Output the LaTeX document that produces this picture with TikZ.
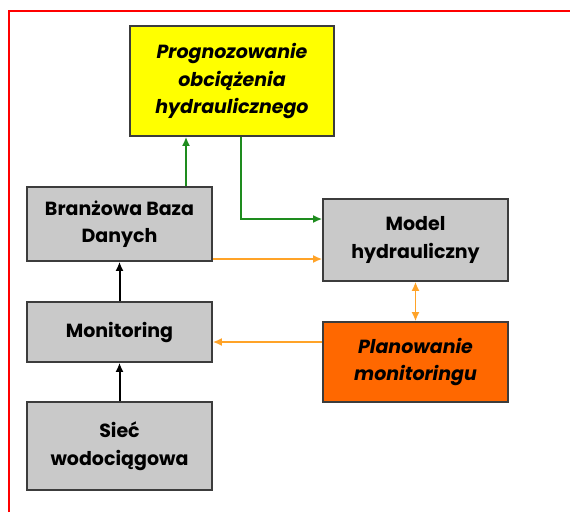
\documentclass[tikz,border=0pt]{standalone}
\usepackage{fontspec}
\setmainfont{Poppins}
\usetikzlibrary{arrows.meta}
\definecolor{boxgray}{RGB}{201,201,201}
\definecolor{boxline}{RGB}{60,60,60}
\definecolor{hlyellow}{RGB}{255,255,0}
\definecolor{hlorange}{RGB}{255,104,0}
\definecolor{flowgreen}{RGB}{30,140,30}
\definecolor{floworange}{RGB}{255,163,40}
\definecolor{framered}{RGB}{255,0,0}
\tikzset{
  blockbox/.style={draw=boxline, line width=1.6pt, fill=boxgray, align=center,
    inner sep=0pt, font=\fontsize{19}{27.5}\selectfont\bfseries},
  flowblack/.style={line width=2pt, black, -{Latex[length=9pt,width=8pt]}},
  flowgr/.style={line width=2.2pt, flowgreen, -{Latex[length=9pt,width=8pt]}},
  flowor/.style={line width=1.8pt, floworange, -{Latex[length=9pt,width=8pt]}},
  floworboth/.style={line width=1.8pt, floworange, {Latex[length=9pt,width=8pt]}-{Latex[length=9pt,width=8pt]}},
}
\begin{document}
\begin{tikzpicture}[x=1pt,y=-1pt]
\useasboundingbox (0,0) rectangle (570,512);
\fill[white] (0,0) rectangle (570,512);
% frame
\draw[framered, line width=2pt] (9,512) -- (9,11) -- (570,11);

% blocks
\node[blockbox, fill=hlyellow, minimum width=204pt, minimum height=110pt, font=\fontsize{19}{27.5}\selectfont\bfseries\itshape]
  (prog) at (232,81) {Prognozowanie\\obciążenia\\hydraulicznego};
\node[blockbox, minimum width=185pt, minimum height=74pt] (bbd) at (119.5,224) {Branżowa Baza\\Danych};
\node[blockbox, minimum width=185pt, minimum height=82pt] (model) at (415.5,240) {Model\\hydrauliczny};
\node[blockbox, minimum width=185pt, minimum height=60pt] (mon) at (119.5,332) {Monitoring};
\node[blockbox, fill=hlorange, minimum width=185pt, minimum height=80pt, font=\fontsize{19}{27.5}\selectfont\bfseries\itshape]
  (plan) at (415.5,362) {Planowanie\\monitoringu};
\node[blockbox, minimum width=185pt, minimum height=88pt] (siec) at (119.5,446) {Sieć\\wodociągowa};

% connectors
\draw[flowgr] ([xshift=66.5pt]bbd.north) coordinate (g1) -- (g1 |- prog.south);
\draw[flowgr] ([xshift=9pt]prog.south) |- ([yshift=21pt]model.west);
\draw[flowor] ([yshift=-35pt]bbd.east) coordinate (o1) -- (o1 -| model.west);
\draw[floworboth] (model.south) -- (plan.north);
\draw[flowor] ([yshift=20pt]plan.west) coordinate (o2) -- (o2 -| mon.east);
\draw[flowblack] (mon.north) -- (bbd.south);
\draw[flowblack] (siec.north) -- (mon.south);
\end{tikzpicture}
\end{document}
